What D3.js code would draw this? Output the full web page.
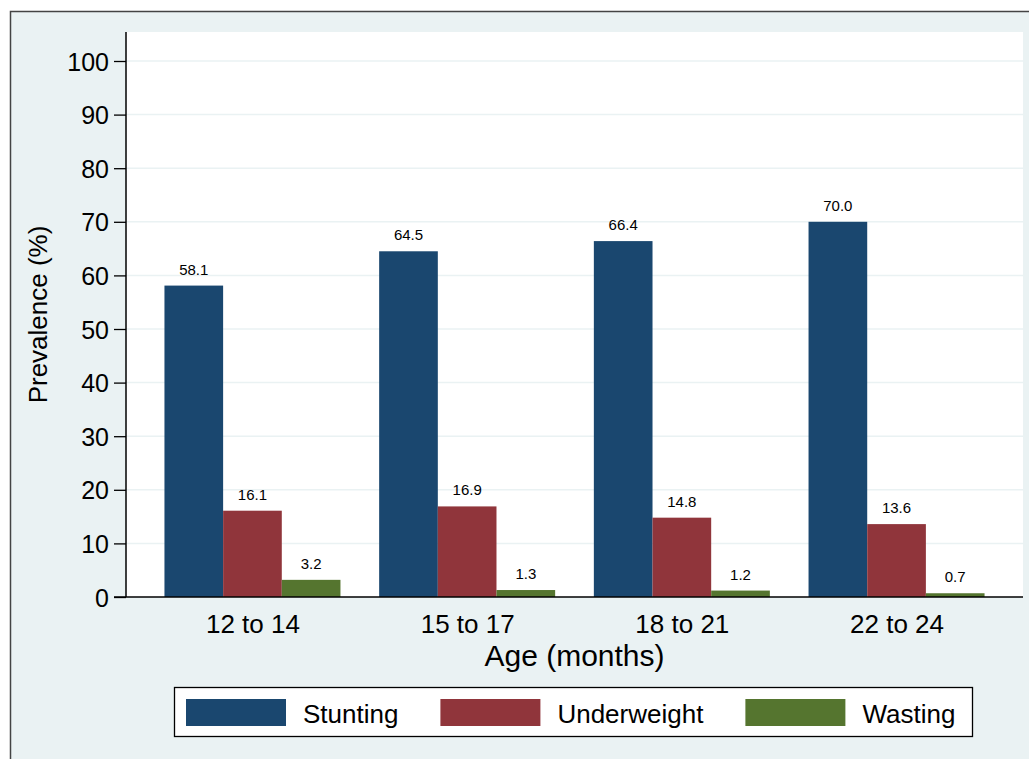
<!DOCTYPE html>
<html>
<head>
<meta charset="utf-8">
<script src="https://cdn.jsdelivr.net/npm/d3@7"></script>
<style>
  body { margin: 0; background: #fff; }
  text { font-family: "Liberation Sans", Arial, sans-serif; fill: #000; }
</style>
</head>
<body>
<div id="chartHolder"></div>
<script>
// data
const ageGroups = ["12 to 14", "15 to 17", "18 to 21", "22 to 24"];
const seriesNames = ["Stunting", "Underweight", "Wasting"];
const stunting = [58.1, 64.5, 66.4, 70.0];
const underweight = [16.1, 16.9, 14.8, 13.6];
const wasting = [3.2, 1.3, 1.2, 0.7];
const yTicks = [0, 10, 20, 30, 40, 50, 60, 70, 80, 90, 100];

const colors = ["#1a476f", "#90353b", "#55752f"];
const seriesValues = [stunting, underweight, wasting];

const w = 1029, h = 759;
const plotL = 126, plotR = 1023, plotT = 32, plotB = 597;

const svg = d3.select("#chartHolder").append("svg")
  .attr("width", w).attr("height", h);

// outer background + frame (right/bottom edges fall outside the window)
svg.append("rect")
  .attr("x", 10.5).attr("y", 11.5)
  .attr("width", w + 10).attr("height", h + 10)
  .attr("fill", "#eaf2f3").attr("stroke", "#444").attr("stroke-width", 1.5);

// plot region
svg.append("rect")
  .attr("x", plotL).attr("y", plotT)
  .attr("width", plotR - plotL).attr("height", plotB - plotT)
  .attr("fill", "#fff");

const y = d3.scaleLinear().domain([0, 100]).range([plotB, plotT + 29]);

const x0 = d3.scalePoint().domain(ageGroups).range([plotL, plotR]).padding(0.589);
const groupW = 176;
const x1 = d3.scaleBand().domain(seriesNames).range([-groupW / 2, groupW / 2]).padding(0);

// gridlines
svg.append("g").selectAll("line")
  .data(yTicks.filter(d => d > 0))
  .enter().append("line")
  .attr("x1", plotL).attr("x2", plotR)
  .attr("y1", d => y(d)).attr("y2", d => y(d))
  .attr("stroke", "#eaf2f3").attr("stroke-width", 1.5);

// bars
const rows = [];
ageGroups.forEach((g, i) => {
  seriesNames.forEach((s, k) => rows.push({ group: g, series: s, value: seriesValues[k][i], color: colors[k] }));
});

svg.append("g").selectAll("rect")
  .data(rows)
  .enter().append("rect")
  .attr("x", d => x0(d.group) + x1(d.series))
  .attr("width", x1.bandwidth())
  .attr("y", d => y(d.value))
  .attr("height", d => y(0) - y(d.value))
  .attr("fill", d => d.color);

svg.append("g").selectAll("text")
  .data(rows)
  .enter().append("text")
  .attr("x", d => x0(d.group) + x1(d.series) + x1.bandwidth() / 2)
  .attr("y", d => y(d.value) - 11)
  .attr("text-anchor", "middle")
  .style("font-size", "15px")
  .text(d => d.value.toFixed(1));

// y axis
const yAxis = d3.axisLeft(y).tickValues(yTicks).tickSize(12).tickPadding(5);
const gy = svg.append("g")
  .attr("transform", "translate(" + plotL + ",0)")
  .call(yAxis);
gy.select(".domain").attr("d", "M0," + plotT + "V" + plotB).attr("stroke", "#000").attr("stroke-width", 1.5);
gy.selectAll(".tick line").attr("stroke", "#000").attr("stroke-width", 1.3);
gy.selectAll(".tick text").style("font-size", "25px").attr("font-family", null).attr("dy", "0.36em");

// x axis
const xAxis = d3.axisBottom(x0).tickSize(0);
const gx = svg.append("g")
  .attr("transform", "translate(0," + plotB + ")")
  .call(xAxis);
gx.select(".domain").attr("d", "M" + (plotL - 12) + ",0H" + plotR).attr("stroke", "#000").attr("stroke-width", 1.5);
gx.selectAll(".tick text").style("font-size", "26px").attr("font-family", null)
  .attr("y", 36).attr("dy", null);

// axis titles
svg.append("text")
  .attr("transform", "translate(47," + ((plotT + plotB) / 2) + ")rotate(-90)")
  .attr("text-anchor", "middle")
  .style("font-size", "26px")
  .text("Prevalence (%)");

svg.append("text")
  .attr("x", (plotL + plotR) / 2).attr("y", 666)
  .attr("text-anchor", "middle")
  .style("font-size", "30px")
  .text("Age (months)");

// legend
const legendG = svg.append("g");
legendG.append("rect")
  .attr("x", 174.5).attr("y", 687.5)
  .attr("width", 798).attr("height", 49)
  .attr("fill", "#fff").attr("stroke", "#000").attr("stroke-width", 1.3);

let lx = 186;
seriesNames.forEach((s, k) => {
  legendG.append("rect")
    .attr("x", lx).attr("y", 699)
    .attr("width", 100).attr("height", 27)
    .attr("fill", colors[k]);
  const t = legendG.append("text")
    .attr("x", lx + 117).attr("y", 723)
    .style("font-size", "26px")
    .text(s);
  lx += 117 + t.node().getComputedTextLength() + 42;
});
</script>
</body>
</html>
